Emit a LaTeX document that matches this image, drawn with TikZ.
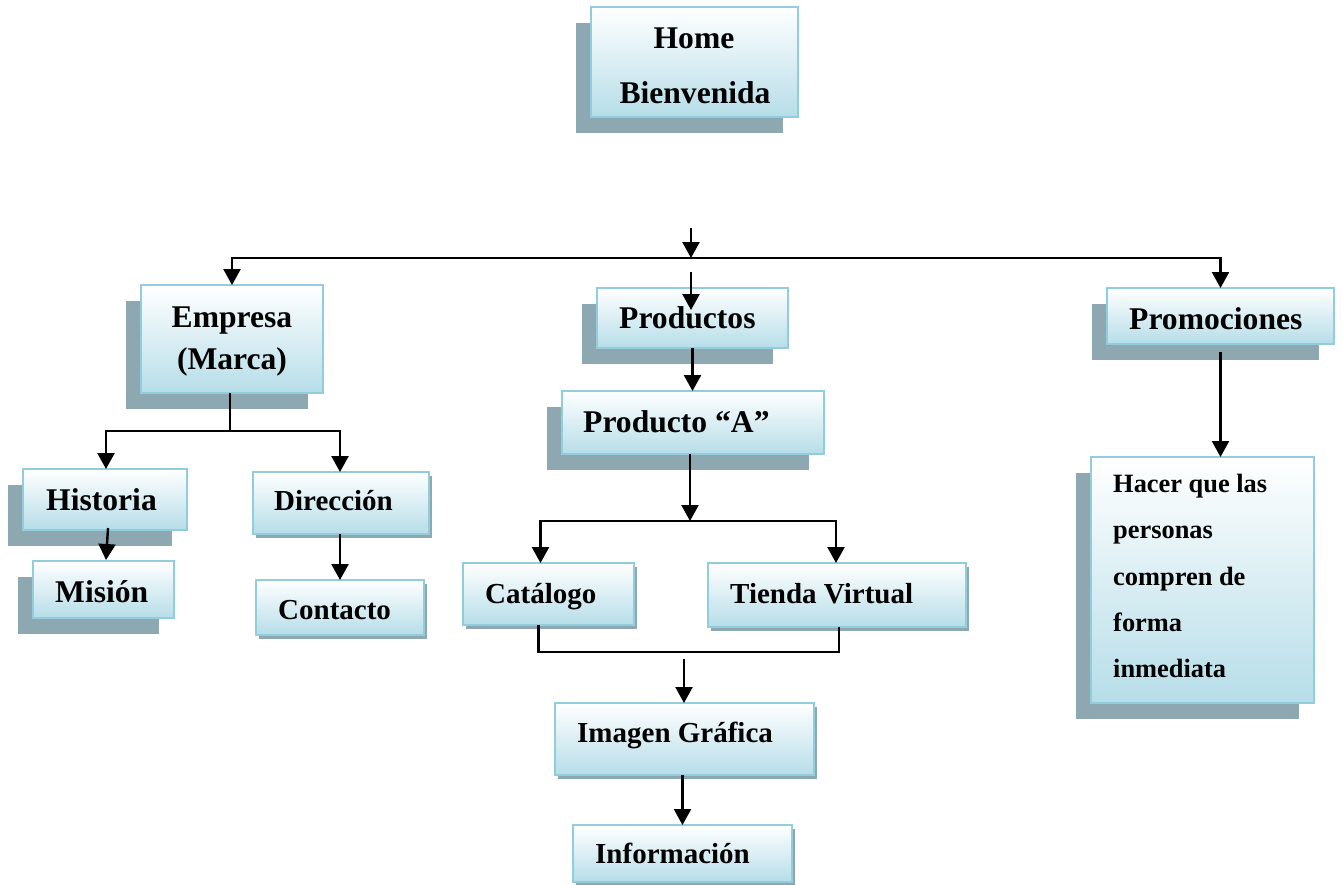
\documentclass[tikz,border=0pt]{standalone}
\usepackage{fontspec}
\setmainfont{Liberation Serif}
\usetikzlibrary{arrows.meta,shadows,calc}

\definecolor{edgeblue}{RGB}{146,205,221}
\definecolor{fillblue}{RGB}{182,221,232}
\definecolor{shadowgray}{RGB}{141,168,176}

\tikzset{
  box/.style={draw=edgeblue, line width=2.4pt, top color=white, bottom color=fillblue,
    anchor=north west, inner sep=0pt, outer sep=0pt},
  farshadow/.style={drop shadow={shadow xshift=-15pt, shadow yshift=-16pt,
    fill=shadowgray, opacity=1}},
  nearshadow/.style={drop shadow={shadow xshift=3pt, shadow yshift=-4pt,
    fill=shadowgray, opacity=1}},
  txtL/.style={inner sep=0pt, font=\bfseries\fontsize{31.6pt}{36pt}\selectfont},
  txtM/.style={inner sep=0pt, font=\bfseries\fontsize{29pt}{34pt}\selectfont},
  txtS/.style={inner sep=0pt, font=\bfseries\fontsize{26.4pt}{30pt}\selectfont},
  link/.style={line width=2.4pt, draw=black},
  flow/.style={link, -{Triangle[width=17pt,length=16pt]}},
}

\begin{document}
\begin{tikzpicture}[x=1pt, y=-1pt]
\useasboundingbox (0,0) rectangle (1342,884);

% ---- boxes ----
\node[box, farshadow, minimum width=207pt, minimum height=110pt] (home) at (591,7) {};
\node[box, farshadow, minimum width=182pt, minimum height=108pt] (empresa) at (141,285) {};
\node[box, farshadow, minimum width=164pt, minimum height=61pt] (historia) at (23,469) {};
\node[box, farshadow, minimum width=141pt, minimum height=57pt] (mision) at (33,561) {};
\node[box, nearshadow, minimum width=176pt, minimum height=62pt] (direccion) at (253,472) {};
\node[box, nearshadow, minimum width=168pt, minimum height=55pt] (contacto) at (256,580) {};
\node[box, farshadow, minimum width=191pt, minimum height=60pt] (productos) at (597,288) {};
\node[box, farshadow, minimum width=262pt, minimum height=63pt] (productoA) at (562,391) {};
\node[box, nearshadow, minimum width=171pt, minimum height=62pt] (catalogo) at (463,563) {};
\node[box, nearshadow, minimum width=258pt, minimum height=64pt] (tienda) at (708,563) {};
\node[box, nearshadow, minimum width=259pt, minimum height=72pt] (imagen) at (555,703) {};
\node[box, nearshadow, minimum width=219pt, minimum height=57pt] (informacion) at (573,825) {};
\node[box, farshadow, minimum width=227pt, minimum height=56pt] (promociones) at (1107,288) {};
\node[box, farshadow, minimum width=223pt, minimum height=246pt] (hacer) at (1091,457) {};

% ---- labels ----
\node[txtL, anchor=base] (homeA) at (694,48) {Home};
\node[txtL, anchor=base] (homeB) at (695,103) {Bienvenida};
\node[txtL, anchor=base] (empresaA) at (232,327) {Empresa};
\node[txtL, anchor=base] (empresaB) at (232,369) {(Marca)};
\node[txtL, anchor=base west] (historiaT) at (46,510) {Historia};
\node[txtL, anchor=base west] (misionT) at (55,602) {Misión};
\node[txtM, anchor=base west] (direccionT) at (274,510) {Dirección};
\node[txtM, anchor=base west] (contactoT) at (278,619) {Contacto};
\node[txtL, anchor=base west] (productosT) at (619,328) {Productos};
\node[txtL, anchor=base west] (productoAT) at (583,432) {Producto “A”};
\node[txtM, anchor=base west] (catalogoT) at (485,603) {Catálogo};
\node[txtM, anchor=base west] (tiendaT) at (730,603) {Tienda Virtual};
\node[txtM, anchor=base west] (imagenT) at (577,742) {Imagen Gráfica};
\node[txtM, anchor=base west] (informacionT) at (595,863) {Información};
\node[txtL, anchor=base west] (promocionesT) at (1129,329) {Promociones};
\node[txtS, anchor=base west] (hacerA) at (1113,492) {Hacer que las};
\node[txtS, anchor=base west] (hacerB) at (1113,538) {personas};
\node[txtS, anchor=base west] (hacerC) at (1113,585) {compren de};
\node[txtS, anchor=base west] (hacerD) at (1113,631) {forma};
\node[txtS, anchor=base west] (hacerE) at (1113,677) {inmediata};

% ---- connectors ----
\coordinate (feed) at (691,228);
\coordinate (hub) at (691,258);
\draw[flow] (feed) -- (hub);
\draw[flow] (hub) -| (empresa.north);
\draw[flow] (hub) -| (promociones.north);

\coordinate (dropIn) at (691,272);
\coordinate (dropOut) at (691,310);
\draw[flow] (dropIn) -- (dropOut);
\draw[flow] (productos.south) -- (productos.south |- productoA.north);

\coordinate (split) at (690,521);
\draw[flow] (productoA.south -| split) -- (split);
\draw[flow] (split) -| ($(catalogo.north)+(-8,0)$);
\draw[flow] (split) -| ($(tienda.north)+(-1,0)$);

\coordinate (joinL) at ($(catalogo.south)+(-10,27)$);
\draw[link] ($(catalogo.south)+(-10,0)$) -- (joinL) -| ($(tienda.south)+(2,0)$);
\coordinate (mergeIn) at (684,659);
\draw[flow] (mergeIn) -- (mergeIn |- imagen.north);
\draw[flow] (informacion.north |- imagen.south) -- (informacion.north);

\coordinate (fork) at (230,431);
\draw[link] (empresa.south -| fork) -- (fork);
\draw[flow] (fork) -| ($(historia.north)+(1,0)$);
\draw[flow] (fork) -| ($(direccion.north)+(-1,0)$);
\draw[flow] ($(historia.south)+(3,-2)$) -- ($(mision.north)+(2.5,-1)$);
\draw[flow] (direccion.south -| contacto.north) -- (contacto.north);

\draw[flow] ($(promociones.south)+(0,8)$) -- (promociones.south |- hacer.north);
\end{tikzpicture}
\end{document}
